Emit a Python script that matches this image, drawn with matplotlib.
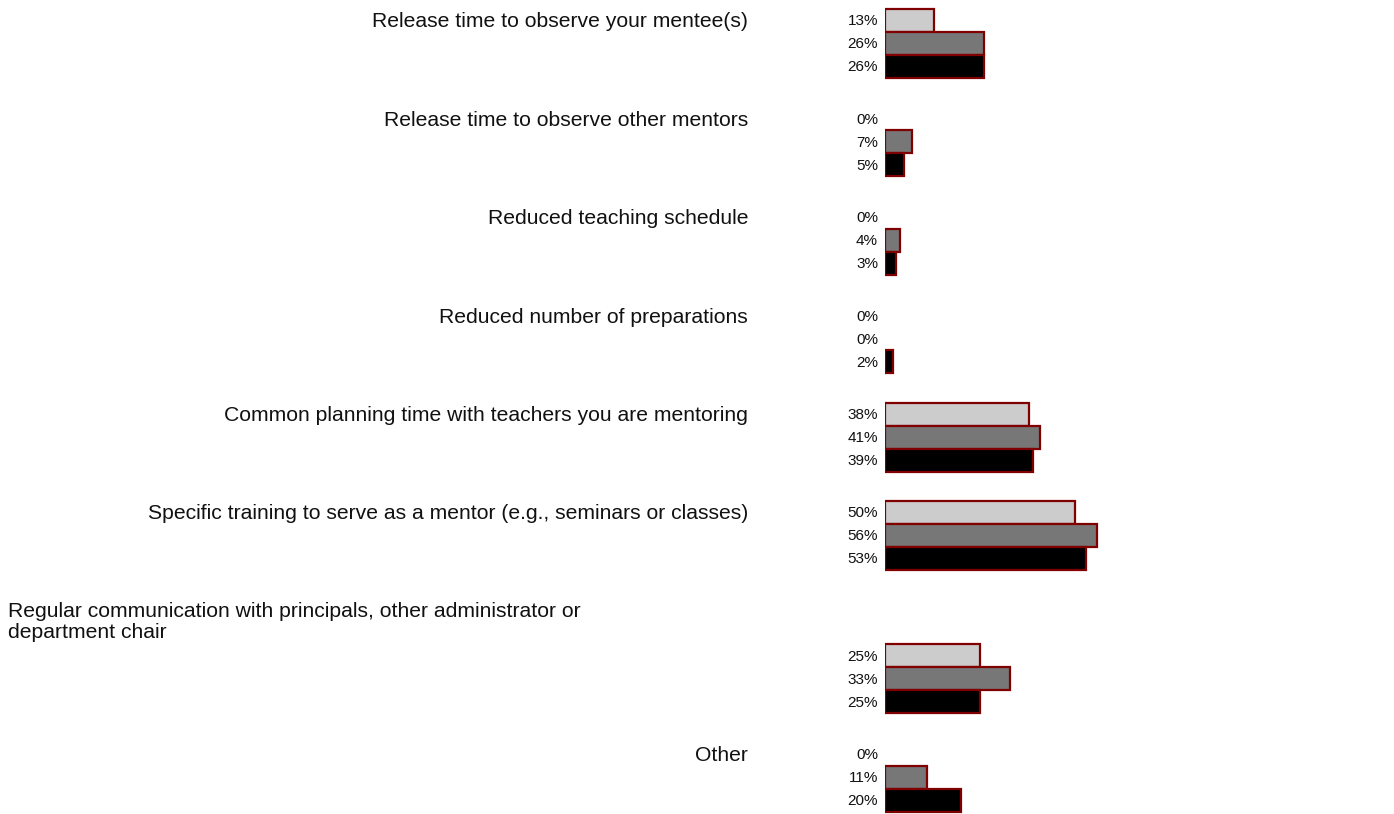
import numpy as np
import matplotlib.pyplot as plt
import matplotlib.transforms as mtransforms

# categorias e valores (%)
categorias = [
    "Release time to observe your mentee(s)",
    "Release time to observe other mentors",
    "Reduced teaching schedule",
    "Reduced number of preparations",
    "Common planning time with teachers you are mentoring",
    "Specific training to serve as a mentor (e.g., seminars or classes)",
    "Regular communication with principals, other administrator or\ndepartment chair",
    "Other",
]
serie1 = [13, 0, 0, 0, 38, 50, 25, 0]
serie2 = [26, 7, 4, 0, 41, 56, 33, 11]
serie3 = [26, 5, 3, 2, 39, 53, 25, 20]

cores = ["#cccccc", "#777777", "#000000"]
borda = "#800000"

plt.rcParams["font.family"] = ["Liberation Sans", "DejaVu Sans"]

W, H = 1394, 814
fig = plt.figure(figsize=(W / 100, H / 100), dpi=100)
ax = fig.add_axes([885 / W, 0, 379 / W, 1])

# posicao dos grupos (linha 7 tem rotulo em cima, empurra o resto)
pos = np.arange(len(categorias), dtype=float)
pos[6:] += 0.457
h = 23 / 98.4

series = [serie1, serie2, serie3]
for k, s in enumerate(series):
    y = pos + (k - 1) * h
    vals = np.array(s, dtype=float)
    ec = [borda if v > 0 else "none" for v in vals]
    ax.barh(y, vals, height=h, color=cores[k], edgecolor=ec, linewidth=1.6)

ax.set_xlim(0, 100)
ax.set_ylim((H - 43.5) / 98.4, -43.5 / 98.4)
ax.axis("off")

tr = mtransforms.blended_transform_factory(fig.transFigure, ax.transData)
for i, cat in enumerate(categorias):
    if "\n" in cat:
        ax.text(8 / W, pos[i] - 0.58, cat, transform=tr, ha="left", va="center",
                fontsize=15.2, linespacing=1.12, color="#111111")
    else:
        ax.text(748 / W, pos[i] - h + 0.015, cat, transform=tr, ha="right", va="center",
                fontsize=15.2, color="#111111")
    for k, s in enumerate(series):
        ax.text(878 / W, pos[i] + (k - 1) * h + 0.01, f"{s[i]}%", transform=tr, ha="right",
                va="center", fontsize=11, color="#111111")

fig.savefig("out.png", dpi=100)
